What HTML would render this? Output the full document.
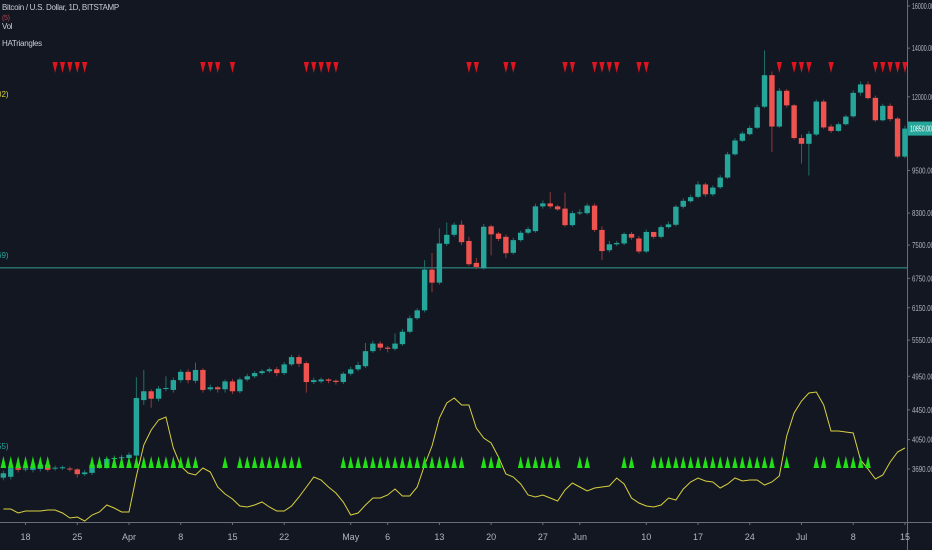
<!DOCTYPE html>
<html><head><meta charset="utf-8">
<style>
html,body{margin:0;padding:0;background:#131722;}
#wrap{position:relative;width:932px;height:550px;overflow:hidden;background:#131722;font-family:"Liberation Sans",sans-serif;}
svg{position:absolute;left:0;top:0;}
.lg{position:absolute;left:2px;font-size:8px;color:#c9ccd4;white-space:nowrap;letter-spacing:-0.3px;}
</style></head>
<body>
<div id="wrap">
<svg id="svg" width="932" height="550"></svg>
<div class="lg" style="top:3px">Bitcoin / U.S. Dollar, 1D, BITSTAMP</div>
<div class="lg" style="top:15px;color:#b04050;font-size:7px">(5)</div>
<div class="lg" style="top:22px">Vol</div>
<div class="lg" style="top:39px">HATriangles</div>
</div>
<script>
const days=[];for(let d=-17;d<=105;d++)days.push(d);
const opens=[3590,3600,3700,3690,3680,3690,3740,3700,3705,3695,3685,3630,3645,3740,3720,3810,3820,3820,3850,4590,4720,4610,4760,4740,4890,5020,4880,5050,4750,4780,4750,4870,4720,4900,4950,5000,5030,5060,5000,5140,5260,5160,4860,4870,4900,4880,4860,4990,5060,5110,5360,5490,5420,5400,5480,5700,5950,6100,6940,6660,7530,7750,8000,7600,7090,6970,7960,7780,7700,7320,7620,7800,7840,8480,8560,8480,8420,7990,8300,8300,8500,7870,7380,7520,7540,7770,7660,7350,7820,7700,7940,8000,8470,8620,8740,9090,8810,9010,9290,10000,10440,10660,10880,11630,12850,10920,12230,11680,10530,10340,10650,11820,10920,10770,11000,11280,12160,12480,11960,11140,11660,11200,9930];
const closes=[3640,3700,3680,3695,3710,3740,3680,3705,3710,3685,3630,3650,3740,3720,3810,3820,3830,3860,4620,4720,4610,4760,4770,4890,5020,4890,5050,4740,4780,4750,4870,4720,4900,4950,5000,5030,5060,5000,5140,5260,5150,4860,4890,4900,4880,4860,4990,5060,5130,5360,5490,5420,5400,5490,5700,5950,6100,6940,6660,7540,7750,8000,7570,7060,7000,7950,7760,7650,7310,7620,7800,7890,8480,8560,8480,8400,7990,8300,8320,8500,7870,7360,7520,7550,7770,7680,7350,7820,7700,7940,8010,8470,8630,8730,9090,8810,9000,9290,10000,10450,10680,10870,11610,12850,10920,12230,11680,10530,10340,10670,11820,10890,10770,11000,11270,12150,12480,11950,11140,11660,11180,9930,10850];
const highs=[3670,3730,3720,3720,3730,3770,3760,3730,3730,3720,3700,3680,3770,3760,3840,3850,3860,3890,4935,5050,4750,4800,4950,4930,5060,5060,5170,5080,4820,4800,4900,4910,4930,4990,5030,5060,5090,5100,5180,5300,5300,5190,4930,4930,4920,4900,5020,5100,5180,5500,5540,5530,5450,5670,5750,6000,6140,7150,7320,7910,8060,8060,8110,7700,7200,8020,8000,7820,7760,7680,7850,7950,8550,8640,8870,8520,8860,8360,8400,8560,8560,7960,7600,7600,7810,7820,7720,7880,7780,7990,8080,8520,8700,8800,9180,9140,9060,9360,10080,10530,10750,10950,11700,13900,13000,12330,12300,11720,10650,10760,11900,11900,11000,11060,11330,12250,12600,12600,12050,11740,11750,11260,10950];
const lows=[3560,3570,3650,3660,3650,3660,3660,3670,3680,3660,3590,3610,3620,3690,3690,3780,3790,3790,3820,4520,4480,4570,4720,4700,4850,4840,4840,4700,4720,4700,4700,4680,4690,4870,4920,4970,5000,4950,4970,5110,5100,4700,4830,4840,4840,4820,4830,4960,5030,5080,5330,5370,5340,5370,5450,5670,5920,6060,6460,6620,7480,7700,7500,7020,6950,6940,7260,7600,7200,7280,7580,7760,7800,8420,8420,8360,7950,7950,8250,8260,7820,7150,7330,7480,7500,7630,7300,7310,7650,7660,7900,7960,8420,8580,8700,8740,8760,8960,9250,9960,10400,10620,10840,11580,10070,10880,11600,10480,9710,9350,10600,10840,10700,10730,10960,11230,12050,11900,11080,11100,11100,9880,9880];
const vol=[21,21,17,19,19,19,20,20,17,12,13,9,15,18,25,22,18,18,54,85,100,110,113,82,64,57,55,62,58,43,36,31,24,23,25,28,23,19,19,24,33,43,53,50,43,37,28,15,17,25,32,32,35,41,34,34,43,65,84,112,127,132,125,125,102,92,87,73,56,53,46,35,33,35,32,29,40,47,43,39,42,43,44,52,46,32,27,24,23,25,32,30,41,48,52,49,48,42,46,52,49,50,50,45,48,54,94,117,129,137,138,125,99,99,98,97,70,61,51,55,68,78,82,78,74,70];
const redSignals=[-10,-9,-8,-7,-6,10,11,12,14,24,25,26,27,28,46,47,51,52,59,60,63,64,65,66,69,70,88,90,91,92,95,101,102,103,104,105];
const greenSignals=[-17,-16,-15,-14,-13,-12,-11,-5,-4,-3,-2,-1,0,1,2,3,4,5,6,7,8,9,13,15,16,17,18,19,20,21,22,23,29,30,31,32,33,34,35,36,37,38,39,40,41,42,43,44,45,48,49,50,53,54,55,56,57,58,61,62,67,68,71,72,73,74,75,76,77,78,79,80,81,82,83,84,85,86,87,89,93,94,96,97,98,99,100];
const priceTicks=[16000,14000,12000,9500,8300,7500,6750,6150,5550,4950,4450,4050,3690];
const dateTickDays=[-14,-7,0,7,14,21,30,35,42,49,56,61,70,77,84,91,98,105];
const dateTickLabels=["18","25","Apr","8","15","22","May","6","13","20","27","Jun","10","17","24","Jul","8","15"];
const supportLevel=6980;
const lastPrice=10850;

const NS="http://www.w3.org/2000/svg";
const svg=document.getElementById('svg');
const X0=129,DX=7.39,PLOT_R=907,AXIS_Y=522;
function xs(d){return X0+d*DX;}
function ys(p){return 6+315.6*Math.log(16000/p);}
function vs(v){return 530-v;}
function mk(tag,attrs,parent){const e=document.createElementNS(NS,tag);for(const k in attrs)e.setAttribute(k,attrs[k]);(parent||svg).appendChild(e);return e;}

// support line
let sl=mk('line',{x1:0,x2:PLOT_R,y1:ys(supportLevel),y2:ys(supportLevel),stroke:'#2a7a74','stroke-width':1.3});



// candles
const cg=mk('g',{});


days.forEach((d,i)=>{
  const o=opens[i],c=closes[i],up=c>=o,col=up?'#26a69a':'#ef5350',wcol=up?'#1f6f69':'#8c3a3c';
  const x=xs(d);
  const g=mk('g',{},cg);
  
  
  mk('line',{x1:x,x2:x,y1:ys(highs[i]),y2:ys(lows[i]),stroke:wcol,'stroke-width':1},g);
  const t=ys(Math.max(o,c)),b=ys(Math.min(o,c));
  mk('rect',{x:x-2.7,y:t,width:5.4,height:Math.max(1,b-t),fill:col},g);
});

// volatility line
let pts=days.map((d,i)=>xs(d).toFixed(1)+','+vs(vol[i]).toFixed(1)).join(' ');
let vl=mk('polyline',{points:pts,fill:'none',stroke:'#d8d040','stroke-width':1});



// red signals
redSignals.forEach(d=>{const x=xs(d);
  let p=mk('polygon',{points:`${x-2.6},62 ${x+2.6},62 ${x},73`,fill:'#e0141e'});
  
  
});
greenSignals.forEach(d=>{const x=xs(d);
  let p=mk('polygon',{points:`${x-2.8},468 ${x+2.8},468 ${x},456`,fill:'#22e018'});
  
  
});

// axes
let ax=mk('line',{x1:PLOT_R+0.5,x2:PLOT_R+0.5,y1:0,y2:550,stroke:'#6a6e78','stroke-width':1});


let bx=mk('line',{x1:0,x2:932,y1:AXIS_Y+0.5,y2:AXIS_Y+0.5,stroke:'#6a6e78','stroke-width':1});


priceTicks.forEach(p=>{const y=ys(p);
  mk('line',{x1:PLOT_R,x2:PLOT_R+3,y1:y,y2:y,stroke:'#6a6e78'});
  let t=mk('text',{x:PLOT_R+5,y:y+3,fill:'#b2b5be','font-size':8,'font-family':'Liberation Sans, sans-serif',textLength:22,lengthAdjust:'spacingAndGlyphs'});
  t.textContent=p.toFixed(2);
  
  
});
dateTickDays.forEach((d,i)=>{const x=xs(d);
  mk('line',{x1:x,x2:x,y1:AXIS_Y,y2:AXIS_Y+3,stroke:'#6a6e78'});
  let t=mk('text',{x:x,y:540,fill:'#b2b5be','font-size':9,'text-anchor':'middle','font-family':'Liberation Sans, sans-serif'});
  t.textContent=dateTickLabels[i];
  
  
});
// last price label
const ly=ys(lastPrice);
let lb=mk('rect',{x:PLOT_R+1,y:ly-7,width:25,height:14,fill:'#26a69a'});


let lt=mk('text',{x:PLOT_R+3,y:ly+3,fill:'#ffffff','font-size':8,'font-family':'Liberation Sans, sans-serif',textLength:22,lengthAdjust:'spacingAndGlyphs'});
lt.textContent=lastPrice.toFixed(2);


// left edge scale badges
[[97,'#d8d040','02)'],[258,'#26a69a','69)'],[449,'#26a69a','55)']].forEach(a=>{
  let t=mk('text',{x:-3,y:a[0],fill:a[1],'font-size':8,'font-family':'Liberation Sans, sans-serif'});
  t.textContent=a[2];
  
  
});
</script>
</body></html>
